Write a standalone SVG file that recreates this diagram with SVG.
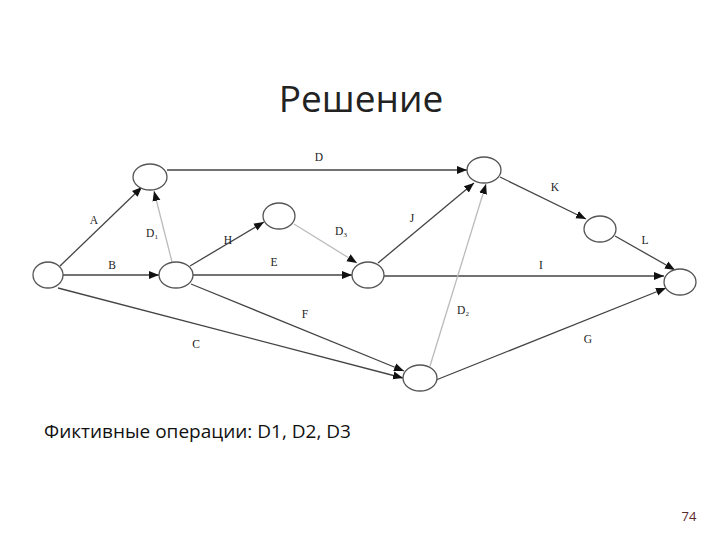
<svg xmlns="http://www.w3.org/2000/svg" width="720" height="540" viewBox="0 0 720 540">
<style>
.n{fill:#fff;stroke:#555;stroke-width:1.3}
.e{stroke:#444;stroke-width:1.3;fill:none;marker-end:url(#ah)}
.g{stroke:#bbb;stroke-width:1.3;fill:none;marker-end:url(#ah)}
.l{font-family:"Liberation Serif",serif;font-size:11.5px;fill:#222;text-anchor:middle}
.s{font-size:7px}
</style>
<defs>
<marker id="ah" viewBox="0 0 10 10" refX="10" refY="5" markerWidth="10" markerHeight="10" markerUnits="userSpaceOnUse" orient="auto">
<path d="M0,1 L10,5 L0,9 z" fill="#111"/>
</marker>
</defs>
<rect width="720" height="540" fill="#fff"/>
<text x="361" y="112" font-family="Open Sans, Liberation Sans, sans-serif" font-size="37" fill="#222" text-anchor="middle">Решение</text>
<g id="connectors">
<line class="e" x1="60" y1="266" x2="142" y2="187"/>
<line class="e" x1="63" y1="275" x2="159" y2="275"/>
<line class="e" x1="58" y1="288" x2="403" y2="378"/>
<line class="e" x1="167" y1="170" x2="467" y2="170"/>
<line class="g" x1="172" y1="262" x2="154" y2="191"/>
<line class="e" x1="190" y1="266" x2="264" y2="222"/>
<line class="e" x1="193" y1="275" x2="352" y2="275"/>
<line class="e" x1="191" y1="284" x2="404" y2="371"/>
<line class="g" x1="294" y1="224" x2="357" y2="263"/>
<line class="e" x1="378" y1="263" x2="474" y2="183"/>
<line class="e" x1="384" y1="276" x2="664" y2="276"/>
<line class="g" x1="430" y1="366" x2="486" y2="184"/>
<line class="e" x1="436" y1="380" x2="666" y2="288"/>
<line class="e" x1="500" y1="177" x2="586" y2="219"/>
<line class="e" x1="615" y1="236" x2="675" y2="270"/>
<text class="l" x="94" y="224">A</text>
<text class="l" x="112" y="269">B</text>
<text class="l" x="196" y="348">C</text>
<text class="l" x="319" y="161">D</text>
<text class="l" x="152" y="237">D<tspan class="s" dy="2">1</tspan></text>
<text class="l" x="228" y="244">H</text>
<text class="l" x="274" y="266">E</text>
<text class="l" x="305" y="318">F</text>
<text class="l" x="341" y="235">D<tspan class="s" dy="2">3</tspan></text>
<text class="l" x="412" y="222">J</text>
<text class="l" x="541" y="269">I</text>
<text class="l" x="463" y="314">D<tspan class="s" dy="2">2</tspan></text>
<text class="l" x="588" y="343">G</text>
<text class="l" x="555" y="191">K</text>
<text class="l" x="645" y="244">L</text>
</g>
<g id="n1"><ellipse class="n" cx="48" cy="275" rx="15" ry="13"/></g>
<g id="n2"><ellipse class="n" cx="150" cy="177" rx="17" ry="13"/></g>
<g id="n3"><ellipse class="n" cx="176" cy="275" rx="17" ry="13"/></g>
<g id="n4"><ellipse class="n" cx="279" cy="216" rx="16" ry="13"/></g>
<g id="n5"><ellipse class="n" cx="368" cy="275" rx="16" ry="13"/></g>
<g id="n6"><ellipse class="n" cx="484" cy="170" rx="17" ry="13"/></g>
<g id="n7"><ellipse class="n" cx="600" cy="229" rx="16" ry="13"/></g>
<g id="n8"><ellipse class="n" cx="680" cy="282" rx="16" ry="13"/></g>
<g id="n9"><ellipse class="n" cx="420" cy="378" rx="17" ry="13"/></g>
<text x="44" y="438" font-family="Open Sans, Liberation Sans, sans-serif" font-size="19" fill="#111">Фиктивные операции: D1, D2, D3</text>
<text x="689" y="521" font-family="Open Sans, Liberation Sans, sans-serif" font-size="13" fill="#5a2a2a" text-anchor="middle">74</text>
</svg>
